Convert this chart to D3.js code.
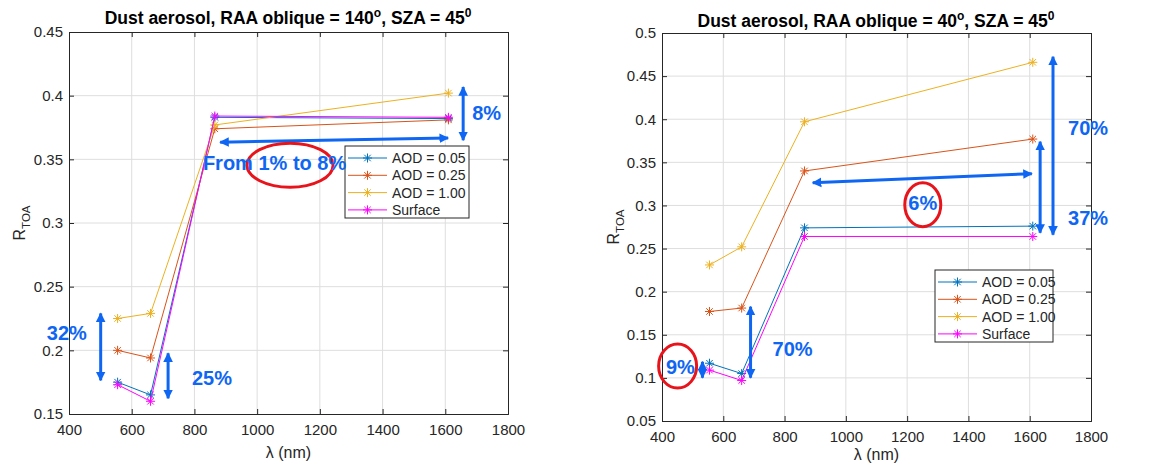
<!DOCTYPE html>
<html>
<head>
<meta charset="utf-8">
<script src="https://cdn.jsdelivr.net/npm/d3@7"></script>
<style>
body { margin: 0; background: #fff; }
svg { font-family: "Liberation Sans", Arial, sans-serif; }
</style>
</head>
<body>
<svg id="chart" width="1162" height="468"></svg>
<script>
// wavelengths (nm)
var wavelengths = [555, 660, 865, 1610];
var seriesNames = ["AOD = 0.05", "AOD = 0.25", "AOD = 1.00", "Surface"];
var seriesColors = ["#0072BD", "#D95319", "#EDB120", "#FF00FF"];

// RAA 140
var left005 = [0.175, 0.165, 0.383, 0.382];
var left025 = [0.200, 0.194, 0.374, 0.381];
var left100 = [0.225, 0.229, 0.377, 0.402];
var leftSurf = [0.173, 0.160, 0.384, 0.383];

// RAA 40
var right005 = [0.117, 0.105, 0.274, 0.276];
var right025 = [0.177, 0.181, 0.340, 0.377];
var right100 = [0.231, 0.252, 0.397, 0.466];
var rightSurf = [0.109, 0.097, 0.264, 0.264];

var xTicks = [400, 600, 800, 1000, 1200, 1400, 1600, 1800];
var leftYTicks = [0.15, 0.2, 0.25, 0.3, 0.35, 0.4, 0.45];
var rightYTicks = [0.05, 0.1, 0.15, 0.2, 0.25, 0.3, 0.35, 0.4, 0.45, 0.5];

var annBlue = "#0e66f3";
var annRed = "#e8141c";

var svg = d3.select("#chart");

var defs = svg.append("defs");
defs.append("marker")
    .attr("id", "head")
    .attr("viewBox", "0 0 10 10")
    .attr("refX", 9).attr("refY", 5)
    .attr("markerWidth", 3.2).attr("markerHeight", 3.4)
    .attr("markerUnits", "strokeWidth")
    .attr("orient", "auto-start-reverse")
    .append("path")
    .attr("d", "M0,0 L10,5 L0,10 Z")
    .attr("fill", annBlue);

var star = function(g, x, y, r, color)
{
    var d = "M" + (x - r) + "," + y + "L" + (x + r) + "," + y +
            "M" + x + "," + (y - r) + "L" + x + "," + (y + r) +
            "M" + (x - r * 0.72) + "," + (y - r * 0.72) + "L" + (x + r * 0.72) + "," + (y + r * 0.72) +
            "M" + (x - r * 0.72) + "," + (y + r * 0.72) + "L" + (x + r * 0.72) + "," + (y - r * 0.72);
    g.append("path").attr("d", d).attr("stroke", color).attr("stroke-width", 1).attr("fill", "none");
};

var drawPanel = function(cfg)
{
    var x = d3.scaleLinear().domain([400, 1800]).range([cfg.left, cfg.right]);
    var y = d3.scaleLinear().domain(cfg.yDomain).range([cfg.bottom, cfg.top]);
    var g = svg.append("g");

    // grid
    g.selectAll(".gx").data(xTicks.slice(1, -1)).enter().append("line")
     .attr("x1", function(d) { return x(d); }).attr("x2", function(d) { return x(d); })
     .attr("y1", cfg.top).attr("y2", cfg.bottom)
     .attr("stroke", "#dedede").attr("stroke-width", 1);
    g.selectAll(".gy").data(cfg.yTicks.slice(1, -1)).enter().append("line")
     .attr("y1", function(d) { return y(d); }).attr("y2", function(d) { return y(d); })
     .attr("x1", cfg.left).attr("x2", cfg.right)
     .attr("stroke", "#dedede").attr("stroke-width", 1);

    // axes
    var fmt = function(d) { return d3.format("")(+d.toFixed(2)); };
    g.append("g").attr("transform", "translate(0," + cfg.bottom + ")")
     .call(d3.axisBottom(x).tickValues(xTicks).tickSize(-5).tickPadding(10).tickFormat(d3.format("d")));
    g.append("g").attr("transform", "translate(" + cfg.left + ",0)")
     .call(d3.axisLeft(y).tickValues(cfg.yTicks).tickSize(-5).tickPadding(6).tickFormat(fmt));
    g.append("g").attr("transform", "translate(0," + cfg.top + ")")
     .call(d3.axisTop(x).tickValues(xTicks).tickSize(-5).tickFormat(""));
    g.append("g").attr("transform", "translate(" + cfg.right + ",0)")
     .call(d3.axisRight(y).tickValues(cfg.yTicks).tickSize(-5).tickFormat(""));
    g.selectAll(".domain").attr("stroke", "#262626");
    g.selectAll(".tick line").attr("stroke", "#262626");
    g.selectAll(".tick text").attr("fill", "#262626").style("font-size", "15px")
     .style("font-family", "'Liberation Sans', Arial, sans-serif");

    // series
    var line = d3.line().x(function(d, i) { return x(wavelengths[i]); }).y(function(d) { return y(d); });
    cfg.series.forEach(function(s, k)
    {
        g.append("path").datum(s).attr("d", line).attr("fill", "none")
         .attr("stroke", seriesColors[k]).attr("stroke-width", 1);
        s.forEach(function(v, i) { star(g, x(wavelengths[i]), y(v), 4.5, seriesColors[k]); });
    });

    // title
    var t = g.append("text").attr("x", cfg.titleX).attr("y", cfg.titleY)
             .attr("text-anchor", "middle").style("font-size", "17.5px").style("font-weight", "bold")
             .attr("fill", "#000");
    t.append("tspan").text("Dust aerosol, RAA oblique = " + cfg.raa);
    t.append("tspan").attr("dy", -7).style("font-size", "12px").text("o");
    t.append("tspan").attr("dy", 7).text(", SZA = 45");
    t.append("tspan").attr("dy", -7).style("font-size", "12px").text("0");

    // axis labels
    g.append("text").attr("x", (cfg.left + cfg.right) / 2).attr("y", cfg.xLabelY)
     .attr("text-anchor", "middle").style("font-size", "16px").attr("fill", "#262626")
     .text("λ (nm)");
    var yl = g.append("text").attr("transform", "translate(" + cfg.yLabelX + "," + ((cfg.top + cfg.bottom) / 2) + ") rotate(-90)")
              .attr("text-anchor", "middle").style("font-size", "16px").attr("fill", "#262626");
    yl.append("tspan").text("R");
    yl.append("tspan").attr("dy", 5).style("font-size", "11.5px").text("TOA");

    // legend
    var lg = g.append("g").attr("transform", "translate(" + cfg.legend[0] + "," + cfg.legend[1] + ")");
    lg.append("rect").attr("width", cfg.legend[2]).attr("height", 72)
      .attr("fill", "#fff").attr("stroke", "#262626").attr("stroke-width", 1);
    seriesNames.forEach(function(n, k)
    {
        var ry = 12 + k * 17.3;
        lg.append("line").attr("x1", 3).attr("x2", 42).attr("y1", ry).attr("y2", ry)
          .attr("stroke", seriesColors[k]).attr("stroke-width", 1);
        star(lg, 22.5, ry, 4.5, seriesColors[k]);
        lg.append("text").attr("x", 47).attr("y", ry + 5).style("font-size", "14px")
          .attr("fill", "#262626").text(n);
    });

    // annotations (data units)
    var ann = g.append("g");
    cfg.arrows.forEach(function(a)
    {
        ann.append("line").attr("x1", x(a[0])).attr("y1", y(a[1])).attr("x2", x(a[2])).attr("y2", y(a[3]))
           .attr("stroke", annBlue).attr("stroke-width", 3)
           .attr("marker-start", "url(#head)").attr("marker-end", "url(#head)");
    });
    cfg.ellipses.forEach(function(e)
    {
        ann.append("ellipse").attr("cx", x(e[0])).attr("cy", y(e[1])).attr("rx", e[2]).attr("ry", e[3])
           .attr("fill", "none").attr("stroke", annRed).attr("stroke-width", 3);
    });
    cfg.labels.forEach(function(l)
    {
        ann.append("text").attr("x", x(l[0])).attr("y", y(l[1])).attr("text-anchor", l[3])
           .style("font-size", "20px").style("font-weight", "bold").attr("fill", annBlue)
           .text(l[2]);
    });
};

drawPanel({
    left: 69, right: 508, top: 32, bottom: 414,
    yDomain: [0.15, 0.45], yTicks: leftYTicks,
    series: [left005, left025, left100, leftSurf],
    raa: "140", titleX: 288, titleY: 24,
    xLabelY: 458, yLabelX: 25,
    legend: [345, 146, 124],
    arrows: [[882, 0.3635, 1609, 0.3667], [1657, 0.4068, 1657, 0.365],
             [501, 0.229, 501, 0.1764], [716, 0.1977, 716, 0.1623]],
    ellipses: [[1105, 0.3454, 43, 22]],
    labels: [[1686, 0.3808, "8%", "start"], [827, 0.3415, "From 1% to 8%", "start"],
             [457, 0.2085, "32%", "end"], [792, 0.1725, "25%", "start"]]
});

drawPanel({
    left: 662, right: 1091, top: 33, bottom: 421,
    yDomain: [0.05, 0.5], yTicks: rightYTicks,
    series: [right005, right025, right100, rightSurf],
    raa: "40", titleX: 876, titleY: 27,
    xLabelY: 460, yLabelX: 619,
    legend: [935, 270, 118],
    arrows: [[892, 0.3263, 1607, 0.3368], [1676, 0.4725, 1676, 0.266],
             [1634, 0.374, 1634, 0.2683], [532, 0.1187, 532, 0.1002],
             [689, 0.1826, 689, 0.1002]],
    ellipses: [[1251, 0.3008, 18, 22], [451, 0.1137, 19, 22]],
    labels: [[1725, 0.382, "70%", "start"], [1725, 0.2776, "37%", "start"],
             [1251, 0.295, "6%", "middle"], [460, 0.1045, "9%", "middle"],
             [761, 0.1255, "70%", "start"]]
});
</script>
</body>
</html>
